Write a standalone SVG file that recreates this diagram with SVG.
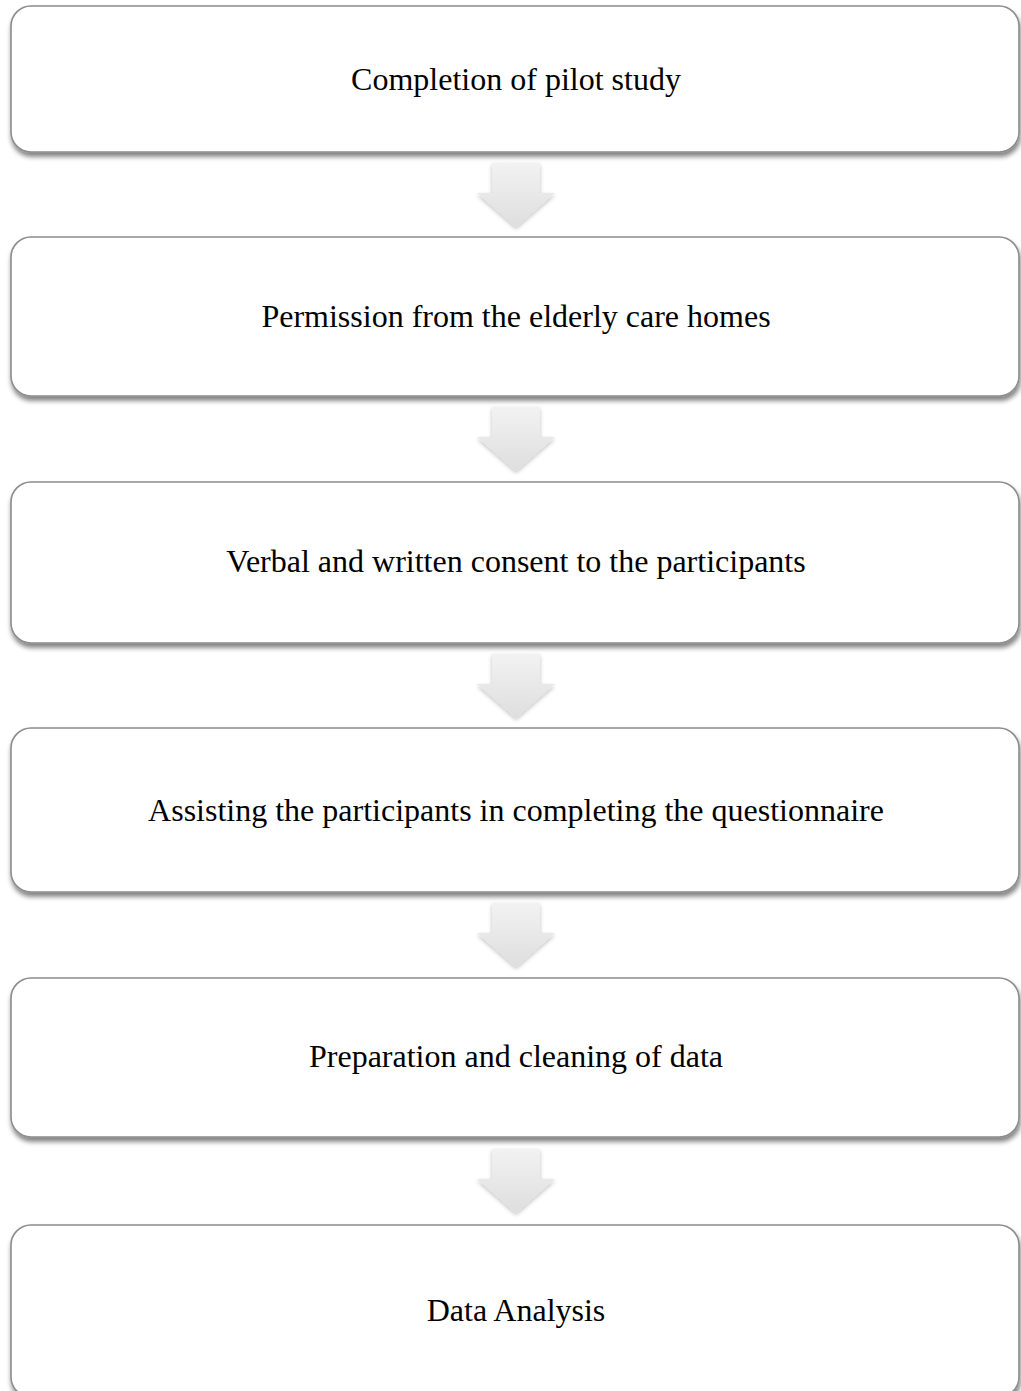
<svg xmlns="http://www.w3.org/2000/svg" width="1021" height="1391" viewBox="0 0 1021 1391">
  <style>
    .box { fill: #ffffff; stroke: #8c8c8c; stroke-width: 1.6; filter: url(#shadow); }
    .label { font-family: "Liberation Serif", "Times New Roman", serif; font-size: 32px; fill: #000000; text-anchor: middle; }
    .arrow { fill: url(#arrowFill); filter: url(#arrowShadow); }
  </style>
  <defs>
    <filter id="shadow" x="-5%" y="-10%" width="110%" height="130%">
      <feGaussianBlur in="SourceAlpha" stdDeviation="2.5"/>
      <feOffset dx="1" dy="4" result="blur"/>
      <feComponentTransfer><feFuncA type="linear" slope="0.5"/></feComponentTransfer>
      <feMerge><feMergeNode/><feMergeNode in="SourceGraphic"/></feMerge>
    </filter>
    <filter id="arrowShadow" x="-30%" y="-30%" width="160%" height="160%">
      <feGaussianBlur in="SourceAlpha" stdDeviation="2"/>
      <feOffset dx="0" dy="2"/>
      <feComponentTransfer><feFuncA type="linear" slope="0.25"/></feComponentTransfer>
      <feMerge><feMergeNode/><feMergeNode in="SourceGraphic"/></feMerge>
    </filter>
    <linearGradient id="arrowFill" x1="0" y1="0" x2="0" y2="1">
      <stop offset="0" stop-color="#f2f2f2"/>
      <stop offset="1" stop-color="#dedede"/>
    </linearGradient>
    <!-- downward block arrow, origin at top of shaft, centred on x=0 -->
    <path id="downArrow" d="M-24,0 H24 V30 H39 L0,64 L-39,30 H-24 Z"/>
  </defs>

  <g id="connectors">
    <use href="#downArrow" class="arrow" x="516" y="163"/>
    <use href="#downArrow" class="arrow" x="516" y="407"/>
    <use href="#downArrow" class="arrow" x="516" y="654"/>
    <use href="#downArrow" class="arrow" x="516" y="903"/>
    <use href="#downArrow" class="arrow" x="516" y="1149"/>
  </g>

  <g id="step1">
    <rect class="box" x="11" y="6" width="1008" height="146" rx="20"/>
    <text class="label" x="516" y="90">Completion of pilot study</text>
  </g>
  <g id="step2">
    <rect class="box" x="11" y="237" width="1008" height="159" rx="20"/>
    <text class="label" x="516" y="327">Permission from the elderly care homes</text>
  </g>
  <g id="step3">
    <rect class="box" x="11" y="482" width="1008" height="161" rx="20"/>
    <text class="label" x="516" y="572">Verbal and written consent to the participants</text>
  </g>
  <g id="step4">
    <rect class="box" x="11" y="728" width="1008" height="164" rx="20"/>
    <text class="label" x="516" y="821">Assisting the participants in completing the questionnaire</text>
  </g>
  <g id="step5">
    <rect class="box" x="11" y="978" width="1008" height="159" rx="20"/>
    <text class="label" x="516" y="1067">Preparation and cleaning of data</text>
  </g>
  <g id="step6">
    <rect class="box" x="11" y="1225" width="1008" height="172" rx="20"/>
    <text class="label" x="516" y="1321">Data Analysis</text>
  </g>
</svg>
